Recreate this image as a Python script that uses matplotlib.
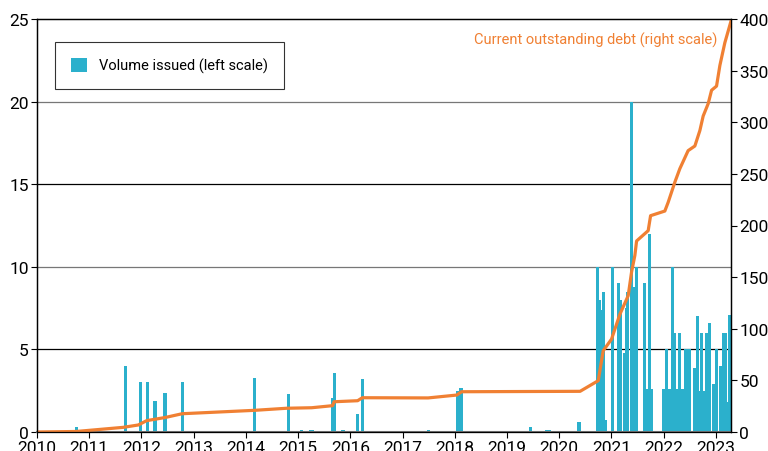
import matplotlib.pyplot as plt

# Volume issued (left scale), issue dates as decimal years
issue_dates = [2010.75, 2011.69, 2011.98, 2012.12, 2012.26, 2012.45, 2012.78,
               2014.17, 2014.81, 2015.06, 2015.24, 2015.28, 2015.66, 2015.69,
               2015.86, 2016.14, 2016.23, 2017.49, 2018.05, 2018.12, 2019.45,
               2019.76, 2019.82, 2020.38,
               2020.741, 2020.779, 2020.798, 2020.856, 2020.894, 2021.028,
               2021.143, 2021.182, 2021.258, 2021.297, 2021.316, 2021.392,
               2021.450, 2021.488, 2021.641, 2021.699, 2021.737, 2021.775,
               2022.005, 2022.062, 2022.120, 2022.177, 2022.215, 2022.253,
               2022.311, 2022.368, 2022.425, 2022.464, 2022.502, 2022.598,
               2022.655, 2022.694, 2022.732, 2022.770, 2022.828, 2022.885,
               2022.962, 2023.019, 2023.096, 2023.153, 2023.191, 2023.229,
               2023.268]
volumes = [0.3, 4.0, 3.0, 3.0, 1.9, 2.35, 3.0,
           3.27, 2.3, 0.1, 0.15, 0.15, 2.05, 3.55,
           0.15, 1.1, 3.2, 0.15, 2.46, 2.68, 0.3,
           0.1, 0.15, 0.6,
           10.0, 8.0, 7.4, 8.5, 0.7, 10.0,
           9.0, 8.0, 4.8, 7.5, 8.5, 20.0,
           8.8, 10.0, 9.0, 2.6, 12.0, 2.6,
           2.6, 5.0, 2.6, 10.0, 6.0, 2.6,
           6.0, 2.6, 5.0, 5.0, 5.0, 3.9,
           7.0, 2.5, 6.0, 2.5, 6.0, 6.6,
           2.9, 5.0, 4.0, 6.0, 6.0, 1.8,
           7.1]

# Current outstanding debt (right scale)
debt_dates = [2010.0, 2010.75, 2011.65, 2011.94, 2012.10, 2012.45, 2012.78,
              2014.17, 2014.78, 2015.26, 2015.66, 2015.69, 2016.14, 2016.23,
              2017.49, 2018.04, 2018.13, 2020.40, 2020.747, 2020.843,
              2021.003, 2021.162, 2021.321, 2021.386, 2021.449, 2021.482,
              2021.704, 2021.750, 2022.023, 2022.087, 2022.215, 2022.310,
              2022.469, 2022.598, 2022.694, 2022.757, 2022.853, 2022.918,
              2023.013, 2023.077, 2023.172, 2023.268, 2023.29]
debt = [0, 0.5, 4.5, 6.8, 11, 14, 17.7,
        21, 23, 23.5, 25.5, 29.3, 30.3, 33.2,
        33, 35.8, 39, 39.4, 49.7, 78.7,
        90, 114, 132, 155, 171, 185,
        195, 209.5, 214, 222.5, 242, 255,
        272.5, 277, 292, 306, 318, 331,
        335, 355, 377, 394, 398]

years = list(range(2010, 2024))

bar_color = '#2BB0CC'
line_color = '#F08033'

plt.rcParams['font.family'] = ['Roboto', 'DejaVu Sans']

fig = plt.figure(figsize=(7.68, 4.52), dpi=100)
ax = fig.add_axes([37 / 768, 19 / 452, 694 / 768, 413 / 452])
ax2 = ax.twinx()

ax.bar(issue_dates, volumes, width=0.06, color=bar_color, align='center',
       label='Volume issued (left scale)')
ax.set_xlim(2010, 2023.29)
ax.set_ylim(0, 25)
ax.set_yticks([0, 5, 10, 15, 20, 25])
for v, c in [(5, 'black'), (10, '#777777'), (15, 'black'), (20, '#777777')]:
    ax.axhline(v, color=c, lw=0.9, zorder=0)
ax.set_axisbelow(True)
ax.set_xticks(years)
ax.set_xticklabels([str(y) for y in years])

ax2.plot(debt_dates, debt, color=line_color, lw=2.3, solid_joinstyle='round')
ax2.set_ylim(0, 400)
ax2.set_yticks([0, 50, 100, 150, 200, 250, 300, 350, 400])

for a in (ax, ax2):
    a.tick_params(labelsize=12.5, length=4, width=0.8, pad=2, colors='black')
    for s in a.spines.values():
        s.set_linewidth(0.9)
ax.spines['bottom'].set_color('#777777')
ax.spines['bottom'].set_linewidth(1.5)

ax.text(0.98, 0.951, 'Current outstanding debt (right scale)', color=line_color,
        fontsize=10.5, ha='right', va='center', transform=ax.transAxes)

leg = ax.legend(loc='upper left', bbox_to_anchor=(0.026, 0.945), fontsize=10.5,
                frameon=True, fancybox=False, borderpad=1.1, handlelength=1.1,
                handleheight=1.1, handletextpad=0.8, borderaxespad=0)
leg.get_frame().set_edgecolor('black')
leg.get_frame().set_linewidth(0.8)

fig.savefig('out.png', dpi=100)
